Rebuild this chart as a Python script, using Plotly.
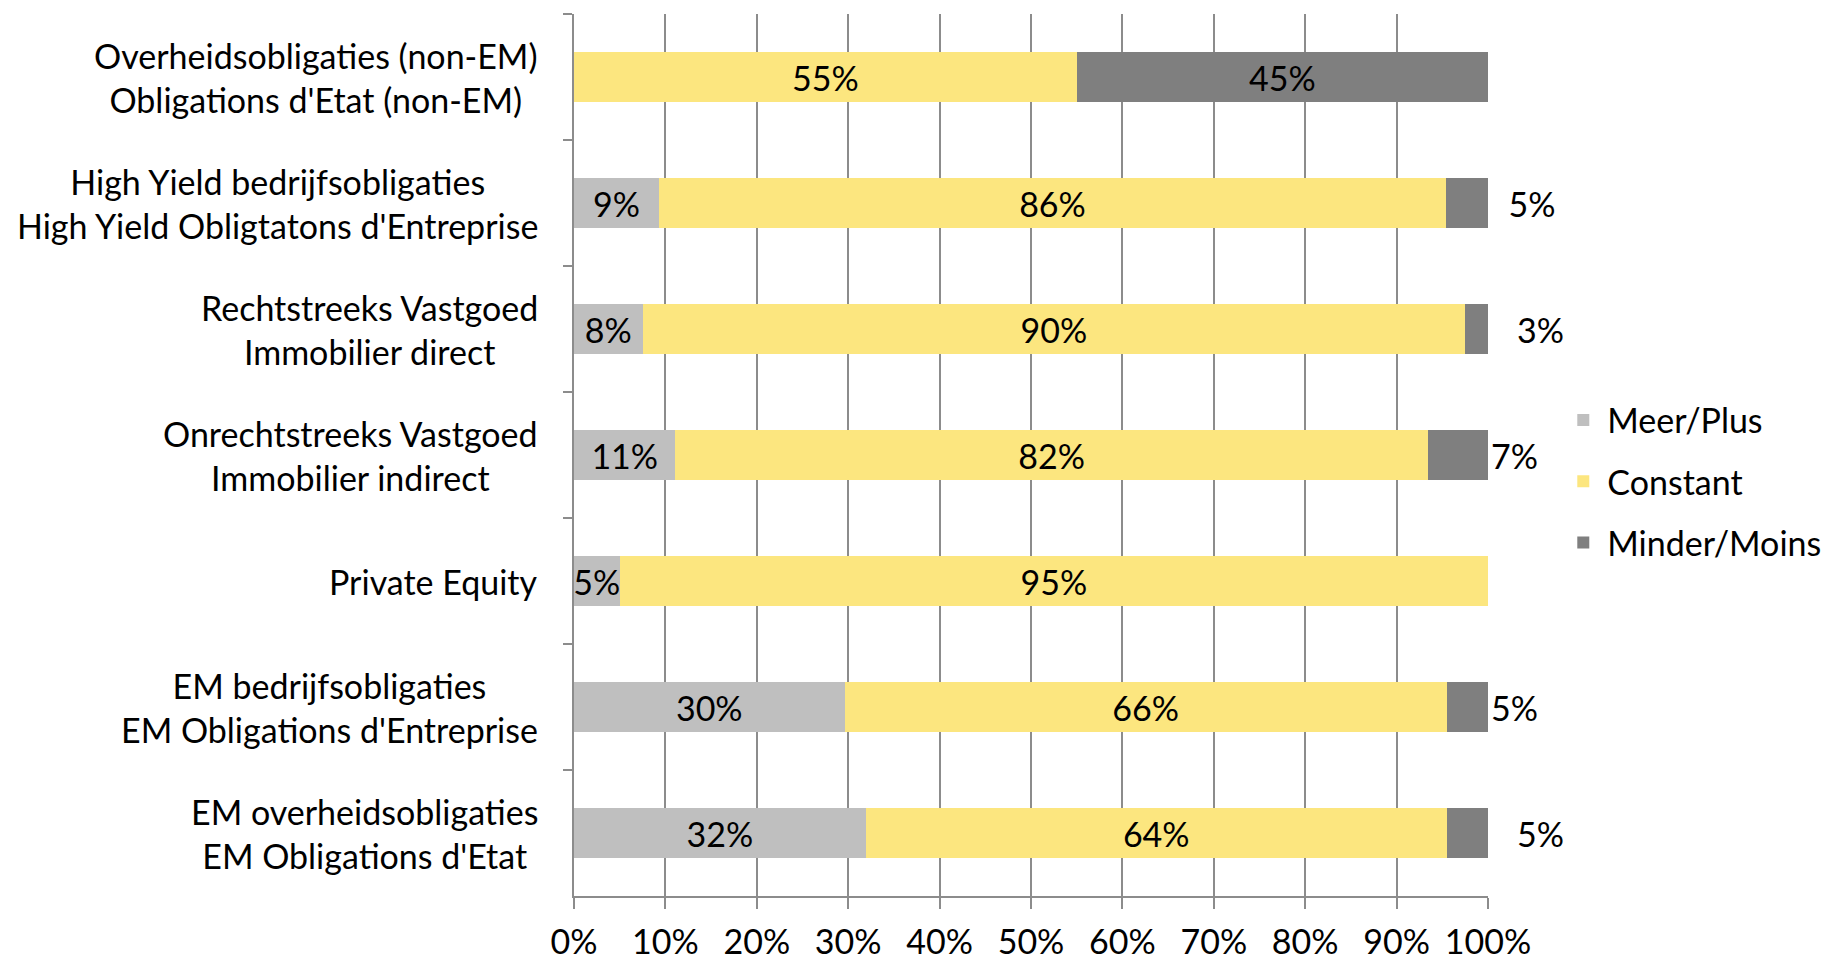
import plotly.graph_objects as go

# categories, top to bottom
categories = [
    "Overheidsobligaties (non-EM)<br>Obligations d'Etat (non-EM)",
    "High Yield bedrijfsobligaties<br>High Yield Obligtatons d'Entreprise",
    "Rechtstreeks Vastgoed<br>Immobilier direct",
    "Onrechtstreeks Vastgoed<br>Immobilier indirect",
    "Private Equity",
    "EM bedrijfsobligaties<br>EM Obligations d'Entreprise",
    "EM overheidsobligaties<br>EM Obligations d'Etat",
]

meer = [0, 9.3, 7.5, 11.1, 5.0, 29.6, 31.9]
constant = [55.0, 86.1, 90.0, 82.3, 95.0, 65.9, 63.6]
minder = [45.0, 4.6, 2.5, 6.6, 0, 4.5, 4.5]

meer_txt = ["", "9%", "8%", "11%", "5%", "30%", "32%"]
constant_txt = ["55%", "86%", "90%", "82%", "95%", "66%", "64%"]
minder_txt = ["45%", "\u00a0\u00a05%", "\u00a0\u00a0\u00a03%", "7%", "", "5%", "\u00a0\u00a0\u00a05%"]

x_ticks = list(range(0, 101, 10))
x_tick_labels = [f"{v}%" for v in x_ticks]

_FONT = "Lato, Calibri, sans-serif"
_FS = 34
_LIGHT = "#BFBFBF"
_YELLOW = "#FCE67F"
_DARK = "#7F7F7F"
_GRID = "#8C8C8C"

fig = go.Figure()
for name, vals, txt, color, pos in [
    ("Meer/Plus", meer, meer_txt, _LIGHT, "inside"),
    ("Constant", constant, constant_txt, _YELLOW, "inside"),
    ("Minder/Moins", minder, minder_txt, _DARK,
     ["inside" if v > 20 else "outside" for v in minder]),
]:
    fig.add_trace(go.Bar(
        y=categories, x=vals, orientation="h", name=name,
        marker=dict(color=color, line_width=0),
        text=txt, textposition=pos, insidetextanchor="middle", textangle=0,
        textfont=dict(family=_FONT, size=_FS, color="black"),
        constraintext="none", cliponaxis=False,
        legendgroup=name, hoverinfo="skip",
    ))

# category labels, lines centred within each block
for cat in categories:
    fig.add_annotation(
        x=0, xref="paper", y=cat, yref="y", xanchor="right", xshift=-34,
        text=cat, align="center", showarrow=False,
        font=dict(family=_FONT, size=_FS, color="black"),
    )

fig.update_layout(
    barmode="stack", bargap=0.6,
    width=1830, height=957,
    plot_bgcolor="white", paper_bgcolor="white",
    margin=dict(l=566, r=350, t=6, b=69),
    font=dict(family=_FONT, size=_FS, color="black"),
    legend=dict(
        x=1.078, xanchor="left", y=0.47, yanchor="middle",
        traceorder="grouped", tracegroupgap=14,
        font=dict(family=_FONT, size=_FS),
        itemwidth=38,
    ),
)
fig.update_xaxes(
    range=[0, 100], tickvals=x_ticks, ticktext=x_tick_labels,
    showgrid=True, gridcolor=_GRID, gridwidth=1.5, zeroline=False,
    showline=True, linecolor=_GRID, linewidth=1.5,
    ticks="outside", ticklen=11, tickcolor=_GRID, tickwidth=1.5,
    ticklabelstandoff=4, automargin=False,
    tickfont=dict(family=_FONT, size=_FS),
)
fig.update_yaxes(
    type="category", autorange="reversed", showticklabels=False,
    showline=True, linecolor=_GRID, linewidth=1.5,
    ticks="outside", tickson="boundaries", ticklen=9, tickcolor=_GRID, tickwidth=1.5,
    showgrid=False, automargin=False,
)

fig.write_html("out.html")
